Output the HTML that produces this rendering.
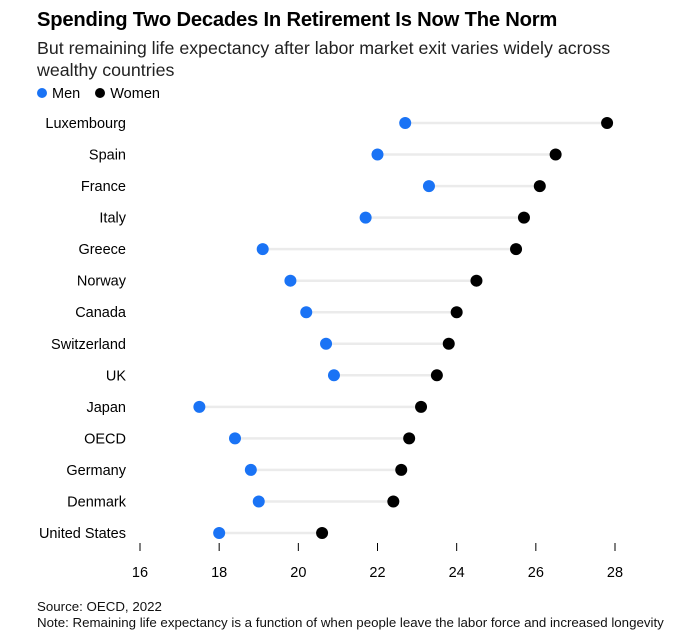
<!DOCTYPE html>
<html><head><meta charset="utf-8"><style>
body{margin:0;background:#fff;font-family:"Liberation Sans",Arial,sans-serif;}
#wrap{position:relative;width:678px;height:643px;overflow:hidden}
.t{position:absolute;left:37px;white-space:nowrap;color:#000}
</style></head><body>
<div id="wrap">
<div class="t" style="top:9px;font-size:20.2px;font-weight:bold;letter-spacing:-0.2px">Spending Two Decades In Retirement Is Now The Norm</div>
<div class="t" style="top:37px;font-size:17.8px;line-height:22px;color:#222">But remaining life expectancy after labor market exit varies widely across<br>wealthy countries</div>
<div class="t" style="top:86px;font-size:14.5px">
<span><span style="display:inline-block;width:10px;height:10px;border-radius:50%;background:#1a73f5;margin-right:5px"></span>Men</span>
<span style="margin-left:11px"><span style="display:inline-block;width:10px;height:10px;border-radius:50%;background:#000;margin-right:5px"></span>Women</span>
</div>
<svg id="svg" width="678" height="643" style="position:absolute;left:0;top:0"></svg>
<div class="t" style="top:599px;font-size:13.3px;line-height:16px;color:#111">Source: OECD, 2022<br>Note: Remaining life expectancy is a function of when people leave the labor force and increased longevity</div>
</div>
<script>
const countries=["Luxembourg","Spain","France","Italy","Greece","Norway","Canada","Switzerland","UK","Japan","OECD","Germany","Denmark","United States"];
const men=[22.7,22.0,23.3,21.7,19.1,19.8,20.2,20.7,20.9,17.5,18.4,18.8,19.0,18.0];
const women=[27.8,26.5,26.1,25.7,25.5,24.5,24.0,23.8,23.5,23.1,22.8,22.6,22.4,20.6];
const ticks=[16,18,20,22,24,26,28];
const NS="http://www.w3.org/2000/svg";
const svg=document.getElementById('svg');
function x(v){return 140+(v-16)*(475/12);}
function y(i){return 123+i*(410/13);}
function mk(t,a){const e=document.createElementNS(NS,t);for(const k in a)e.setAttribute(k,a[k]);svg.appendChild(e);return e;}
countries.forEach((c,i)=>{
  const l=mk('text',{x:126,y:y(i)+5,'text-anchor':'end','font-size':14.5,fill:'#000','font-family':'Liberation Sans, sans-serif'});
  l.textContent=c;
  
  
  const ln=mk('line',{x1:x(men[i]),x2:x(women[i]),y1:y(i),y2:y(i),stroke:'#ebebeb','stroke-width':2.5});
  
  
  const m=mk('circle',{cx:x(men[i]),cy:y(i),r:6,fill:'#1a73f5'});
  
  
  const w=mk('circle',{cx:x(women[i]),cy:y(i),r:6,fill:'#000'});
  
  
});
ticks.forEach(t=>{
  const tk=mk('line',{x1:x(t),x2:x(t),y1:543,y2:551,stroke:'#000','stroke-width':1});
  
  
  const tl=mk('text',{x:x(t),y:577,'text-anchor':'middle','font-size':14.5,fill:'#000','font-family':'Liberation Sans, sans-serif'});
  tl.textContent=t;
  
  
});
</script>
</body></html>
